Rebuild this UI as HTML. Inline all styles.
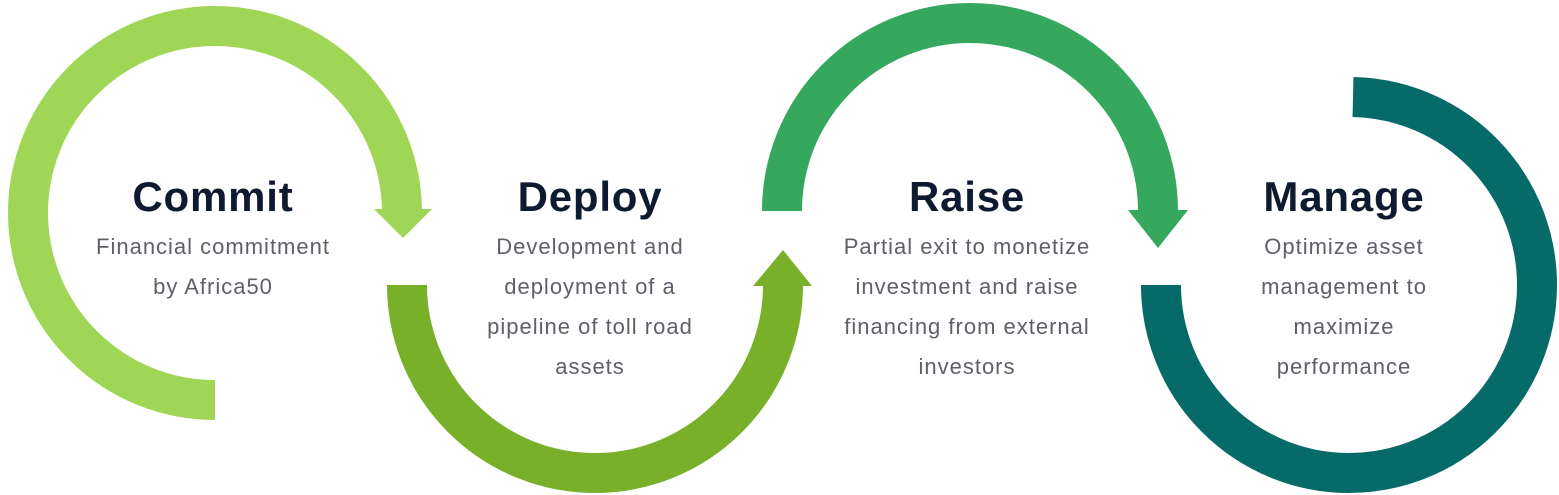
<!DOCTYPE html>
<html><head><meta charset="utf-8"><style>
html,body{margin:0;padding:0;background:#fff;}
body{width:1559px;height:495px;position:relative;overflow:hidden;font-family:"Liberation Sans",sans-serif;}
svg{position:absolute;left:0;top:0;}
.t{position:absolute;width:360px;text-align:center;}
.h{font-size:42px;font-weight:bold;color:#0e1a2f;top:170px;line-height:54px;letter-spacing:0.8px;}
.b{font-size:22px;color:#5d6068;top:227px;line-height:40px;letter-spacing:1px;}
</style></head><body>
<svg width="1559" height="495" viewBox="0 0 1559 495">
<path d="M215,400 A187,187 0 1 1 402,211" fill="none" stroke="#a0d656" stroke-width="40"/>
<polygon points="374,209 432,209 403,238" fill="#a0d656"/>
<path d="M407,285 A188,188 0 0 0 783,285" fill="none" stroke="#79b02a" stroke-width="40"/>
<polygon points="753,286 812,286 783,250" fill="#79b02a"/>
<path d="M782,211 A188,188 0 0 1 1158,211" fill="none" stroke="#35a85e" stroke-width="40"/>
<polygon points="1128,210 1188,210 1158,248" fill="#35a85e"/>
<path d="M1353,97 A188,188 0 1 1 1161,285" fill="none" stroke="#066a68" stroke-width="40"/>
</svg>
<div class="t h" style="left:33px">Commit</div>
<div class="t b" style="left:33px">Financial commitment<br>by Africa50</div>
<div class="t h" style="left:410px">Deploy</div>
<div class="t b" style="left:410px">Development and<br>deployment of a<br>pipeline of toll road<br>assets</div>
<div class="t h" style="left:787px">Raise</div>
<div class="t b" style="left:787px">Partial exit to monetize<br>investment and raise<br>financing from external<br>investors</div>
<div class="t h" style="left:1164px">Manage</div>
<div class="t b" style="left:1164px">Optimize asset<br>management to<br>maximize<br>performance</div>
</body></html>
